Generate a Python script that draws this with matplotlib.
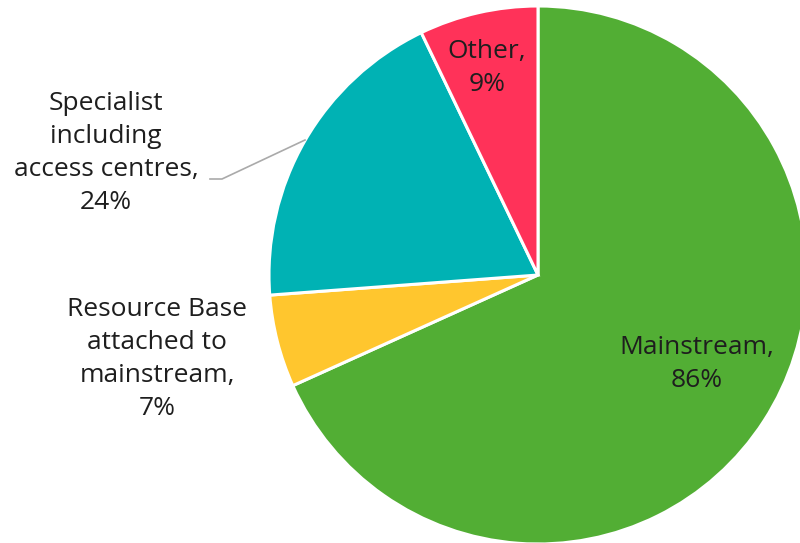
import matplotlib.pyplot as plt

# school placement shares, as printed on the labels
categories = ["Mainstream", "Resource Base\nattached to\nmainstream", "Specialist\nincluding\naccess centres", "Other"]
values = [86, 7, 24, 9]
colours = ["#52AE34", "#FFC62E", "#00B2B4", "#FF3259"]

plt.rcParams['font.family'] = ['Open Sans', 'DejaVu Sans']

fig = plt.figure(figsize=(8, 5.43), dpi=100)
ax = fig.add_axes([0, 0, 1, 1])

cx, cy, r = 538, 543 - 275, 269
ax.pie(values, colors=colours, startangle=90, counterclock=False,
       center=(cx, cy), radius=r, frame=True,
       wedgeprops=dict(edgecolor='white', linewidth=2.2))
ax.set_xlim(0, 800)
ax.set_ylim(0, 543)
ax.set_aspect('equal')
ax.axis('off')

txt = dict(fontsize=19, color='#1E1E1E', ha='center', va='center', linespacing=1.42)

# labels inside the slices
ax.text(697, 543 - 364, f"{categories[0]},\n{values[0]}%", **txt)
ax.text(487, 543 - 68, f"{categories[3]},\n{values[3]}%", **txt)

# labels outside the slices
ax.text(157, 543 - 359, f"{categories[1]},\n{values[1]}%", **txt)
ax.text(106, 543 - 153, f"{categories[2]},\n{values[2]}%", **txt)

# leader line for the specialist slice
ax.plot([210, 222, 305], [543 - 179, 543 - 179, 543 - 140], color='#AAAAAA', lw=1.2)

fig.savefig('out.png', dpi=100)
